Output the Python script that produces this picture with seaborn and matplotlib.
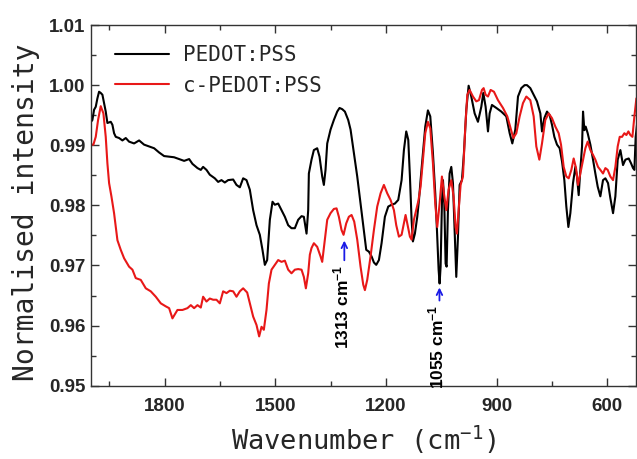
import numpy as np
import pandas as pd
import matplotlib
matplotlib.use("Agg")
import matplotlib.pyplot as plt
import seaborn as sns
from matplotlib.ticker import MultipleLocator, FormatStrFormatter

# ---------------- data ----------------
wn_pedot = [2000.0, 1996.3, 1991.8, 1987.2, 1982.7, 1978.2, 1973.7, 1969.1, 1964.6, 1960.1,
            1955.6, 1946.5, 1942.0, 1937.5, 1932.9, 1923.9, 1914.9, 1905.8, 1896.8, 1883.2,
            1869.6, 1856.1, 1842.5, 1828.9, 1815.4, 1801.8, 1788.2, 1774.7, 1761.1, 1747.5,
            1733.9, 1724.9, 1711.3, 1702.3, 1696.0, 1686.9, 1677.9, 1664.3, 1655.2, 1646.2,
            1637.2, 1628.1, 1614.5, 1605.5, 1596.4, 1587.4, 1578.3, 1569.3, 1560.3, 1551.2,
            1542.2, 1535.0, 1528.6, 1522.3, 1515.0, 1507.8, 1501.5, 1492.4, 1483.4, 1474.3,
            1465.3, 1456.3, 1447.2, 1438.2, 1429.1, 1422.8, 1415.5, 1411.0, 1409.2, 1402.0,
            1395.6, 1386.6, 1380.3, 1373.0, 1368.5, 1364.0, 1359.4, 1350.4, 1341.4, 1332.3,
            1326.0, 1318.7, 1311.5, 1302.5, 1296.1, 1287.1, 1278.0, 1269.0, 1260.0, 1253.6,
            1246.4, 1239.1, 1232.8, 1226.5, 1219.2, 1212.0, 1203.0, 1193.9, 1184.9, 1175.8,
            1166.8, 1157.7, 1151.4, 1145.1, 1139.6, 1135.1, 1130.6, 1127.0, 1121.6, 1115.2,
            1110.7, 1106.2, 1099.8, 1093.5, 1086.3, 1079.9, 1072.7, 1066.4, 1061.8, 1057.3,
            1054.6, 1051.9, 1048.3, 1045.5, 1041.9, 1038.3, 1035.6, 1032.0, 1027.5, 1022.9,
            1018.4, 1013.9, 1009.4, 1004.8, 1000.3, 994.0, 988.6, 982.2, 975.9, 968.7,
            959.6, 950.6, 941.5, 936.1, 929.8, 923.4, 918.9, 912.6, 900.7, 887.3,
            873.7, 864.6, 857.4, 849.3, 842.0, 833.0, 824.0, 817.6, 808.6, 799.5,
            790.5, 781.4, 776.9, 770.6, 763.3, 756.1, 749.8, 743.4, 736.2, 729.0,
            722.6, 716.3, 710.9, 705.4, 700.0, 692.8, 686.4, 682.0, 677.4, 672.9,
            668.3, 665.6, 662.0, 658.4, 653.0, 645.7, 638.5, 632.2, 625.8, 618.6,
            611.4, 605.0, 597.8, 591.5, 584.2, 577.9, 571.6, 564.3, 557.1, 550.7,
            541.7, 535.4, 530.0, 526.3, 522.8, 519.2]
int_pedot = [0.9939, 0.9942, 0.9959, 0.9964, 0.9978, 0.9989, 0.9987, 0.9984, 0.9970, 0.9956,
             0.9937, 0.9939, 0.9934, 0.9920, 0.9914, 0.9912, 0.9908, 0.9912, 0.9906, 0.9903,
             0.9908, 0.9901, 0.9898, 0.9895, 0.9888, 0.9882, 0.9881, 0.9880, 0.9877, 0.9874,
             0.9877, 0.9869, 0.9862, 0.9859, 0.9864, 0.9859, 0.9851, 0.9845, 0.9839, 0.9842,
             0.9838, 0.9842, 0.9843, 0.9834, 0.9830, 0.9845, 0.9842, 0.9826, 0.9792, 0.9767,
             0.9751, 0.9726, 0.9701, 0.9709, 0.9776, 0.9806, 0.9801, 0.9803, 0.9792, 0.9781,
             0.9767, 0.9762, 0.9762, 0.9776, 0.9782, 0.9781, 0.9753, 0.9792, 0.9853, 0.9876,
             0.9892, 0.9895, 0.9881, 0.9848, 0.9834, 0.9859, 0.9903, 0.9926, 0.9942, 0.9956,
             0.9962, 0.9960, 0.9956, 0.9942, 0.9926, 0.9887, 0.9848, 0.9803, 0.9759, 0.9726,
             0.9723, 0.9715, 0.9705, 0.9701, 0.9709, 0.9737, 0.9781, 0.9798, 0.9801, 0.9803,
             0.9809, 0.9842, 0.9892, 0.9923, 0.9909, 0.9848, 0.9776, 0.9740, 0.9753, 0.9781,
             0.9808, 0.9842, 0.9887, 0.9931, 0.9958, 0.9948, 0.9887, 0.9820, 0.9759, 0.9693,
             0.9670, 0.9698, 0.9803, 0.9842, 0.9803, 0.9703, 0.9698, 0.9792, 0.9853, 0.9864,
             0.9837, 0.9759, 0.9681, 0.9748, 0.9834, 0.9842, 0.9887, 0.9959, 0.9999, 0.9981,
             0.9953, 0.9939, 0.9964, 0.9987, 0.9964, 0.9923, 0.9953, 0.9967, 0.9962, 0.9956,
             0.9948, 0.9920, 0.9903, 0.9926, 0.9981, 0.9995, 1.0000, 1.0000, 0.9995, 0.9984,
             0.9973, 0.9953, 0.9923, 0.9945, 0.9956, 0.9950, 0.9934, 0.9914, 0.9901, 0.9895,
             0.9873, 0.9842, 0.9798, 0.9764, 0.9787, 0.9837, 0.9864, 0.9848, 0.9817, 0.9859,
             0.9898, 0.9956, 0.9925, 0.9931, 0.9920, 0.9901, 0.9876, 0.9853, 0.9831, 0.9815,
             0.9842, 0.9845, 0.9837, 0.9812, 0.9787, 0.9815, 0.9876, 0.9892, 0.9867, 0.9876,
             0.9878, 0.9870, 0.9862, 0.9859, 0.9914, 0.9934]

wn_cpedot = [2000.0, 1993.6, 1987.2, 1980.9, 1973.7, 1966.4, 1960.1, 1955.6, 1951.0, 1944.7,
             1937.5, 1928.4, 1919.4, 1910.3, 1896.8, 1887.7, 1878.7, 1865.1, 1851.5, 1838.0,
             1824.4, 1810.8, 1797.3, 1788.2, 1779.2, 1765.6, 1752.0, 1738.5, 1729.4, 1720.4,
             1711.3, 1702.3, 1696.0, 1686.9, 1677.9, 1668.8, 1659.8, 1650.7, 1641.7, 1632.6,
             1623.6, 1614.5, 1605.5, 1596.4, 1587.4, 1576.5, 1569.3, 1560.3, 1551.2, 1544.0,
             1537.6, 1531.3, 1524.1, 1517.7, 1510.5, 1501.5, 1492.4, 1483.4, 1474.3, 1465.3,
             1456.3, 1447.2, 1438.2, 1429.1, 1422.8, 1417.3, 1411.0, 1406.5, 1402.0, 1395.6,
             1386.6, 1377.5, 1373.0, 1365.8, 1359.4, 1350.4, 1341.4, 1334.1, 1327.8, 1320.6,
             1315.1, 1307.9, 1300.7, 1293.4, 1286.2, 1278.0, 1269.0, 1261.7, 1257.2, 1250.9,
             1241.9, 1232.8, 1223.8, 1214.7, 1205.7, 1196.6, 1187.6, 1178.5, 1172.2, 1165.0,
             1157.7, 1151.4, 1146.9, 1142.4, 1135.1, 1130.6, 1124.3, 1112.0, 1106.2, 1099.8,
             1093.5, 1086.3, 1079.9, 1072.7, 1066.4, 1061.0, 1054.6, 1048.3, 1042.8, 1036.5,
             1030.2, 1022.9, 1016.6, 1011.2, 1007.6, 1003.0, 997.6, 991.3, 984.9, 979.5,
             973.2, 964.1, 955.1, 947.9, 939.7, 935.2, 929.8, 923.4, 916.2, 907.2,
             896.3, 882.7, 871.0, 862.0, 854.7, 846.5, 837.5, 828.5, 819.4, 808.6,
             799.5, 792.3, 784.1, 776.9, 767.9, 758.8, 749.8, 740.7, 731.7, 725.3,
             718.1, 710.9, 704.5, 697.3, 691.0, 684.6, 679.2, 672.9, 665.6, 659.3,
             653.0, 645.7, 638.5, 632.2, 625.0, 618.6, 611.4, 605.0, 598.7, 591.5,
             584.2, 577.9, 571.6, 566.1, 559.8, 553.5, 548.0, 542.6, 537.2, 531.7,
             526.3, 520.9]
int_cpedot = [0.9901, 0.9901, 0.9914, 0.9942, 0.9965, 0.9953, 0.9914, 0.9870, 0.9837, 0.9815,
              0.9787, 0.9742, 0.9726, 0.9712, 0.9698, 0.9693, 0.9679, 0.9676, 0.9662, 0.9657,
              0.9648, 0.9637, 0.9632, 0.9629, 0.9612, 0.9626, 0.9626, 0.9629, 0.9634, 0.9629,
              0.9634, 0.9630, 0.9648, 0.9640, 0.9645, 0.9643, 0.9643, 0.9637, 0.9657, 0.9654,
              0.9658, 0.9657, 0.9648, 0.9657, 0.9662, 0.9655, 0.9637, 0.9615, 0.9601, 0.9582,
              0.9598, 0.9593, 0.9626, 0.9670, 0.9693, 0.9701, 0.9709, 0.9706, 0.9708, 0.9693,
              0.9687, 0.9693, 0.9694, 0.9693, 0.9681, 0.9662, 0.9687, 0.9718, 0.9729, 0.9737,
              0.9731, 0.9715, 0.9706, 0.9743, 0.9776, 0.9787, 0.9794, 0.9795, 0.9781, 0.9759,
              0.9751, 0.9770, 0.9781, 0.9784, 0.9773, 0.9743, 0.9698, 0.9668, 0.9659, 0.9676,
              0.9715, 0.9759, 0.9798, 0.9820, 0.9834, 0.9820, 0.9809, 0.9792, 0.9767, 0.9748,
              0.9751, 0.9770, 0.9784, 0.9770, 0.9748, 0.9743, 0.9776, 0.9808, 0.9831, 0.9876,
              0.9920, 0.9939, 0.9928, 0.9870, 0.9803, 0.9764, 0.9803, 0.9848, 0.9820, 0.9792,
              0.9826, 0.9842, 0.9814, 0.9764, 0.9753, 0.9792, 0.9834, 0.9848, 0.9931, 0.9984,
              0.9992, 0.9981, 0.9973, 0.9975, 0.9992, 0.9995, 0.9984, 0.9981, 0.9992, 0.9989,
              0.9975, 0.9962, 0.9948, 0.9928, 0.9912, 0.9920, 0.9948, 0.9970, 0.9981, 0.9975,
              0.9948, 0.9898, 0.9876, 0.9903, 0.9942, 0.9953, 0.9945, 0.9931, 0.9920, 0.9901,
              0.9864, 0.9848, 0.9845, 0.9859, 0.9878, 0.9862, 0.9834, 0.9853, 0.9876, 0.9895,
              0.9906, 0.9892, 0.9884, 0.9876, 0.9864, 0.9859, 0.9853, 0.9862, 0.9859, 0.9848,
              0.9842, 0.9864, 0.9898, 0.9914, 0.9914, 0.9920, 0.9917, 0.9923, 0.9917, 0.9914,
              0.9948, 0.9978]

series_labels = ["PEDOT:PSS", "c-PEDOT:PSS"]
series_colors = ["#000000", "#e81818"]
x_ticks = [1800, 1500, 1200, 900, 600]
y_ticks = [0.95, 0.96, 0.97, 0.98, 0.99, 1.00, 1.01]
peak_positions = [1313, 1055]
peak_labels = ["1313 cm$\\mathregular{^{-1}}$", "1055 cm$\\mathregular{^{-1}}$"]
peak_arrow_tip = [0.9746, 0.9668]
peak_arrow_tail = [0.9704, 0.9637]

# ---------------- plotting ----------------
sns.set_style("ticks")
plt.rcParams["font.family"] = ["Liberation Sans", "DejaVu Sans"]
plt.rcParams["mathtext.default"] = "regular"

df = pd.concat([
    pd.DataFrame({"wn": wn_pedot, "val": int_pedot, "sample": series_labels[0]}),
    pd.DataFrame({"wn": wn_cpedot, "val": int_cpedot, "sample": series_labels[1]}),
])

fig = plt.figure(figsize=(6.37, 4.59), dpi=100)
ax = fig.add_axes([0.1429, 0.1597, 0.8555, 0.7858])

sns.lineplot(data=df, x="wn", y="val", hue="sample", palette=series_colors,
             hue_order=series_labels, sort=False, estimator=None, lw=1.5, ax=ax)

ax.set_xlim(2000, 522)
ax.set_ylim(0.95, 1.01)
ax.set_xticks(x_ticks)
ax.set_yticks(y_ticks)
ax.xaxis.set_minor_locator(MultipleLocator(150))
ax.yaxis.set_minor_locator(MultipleLocator(0.005))
ax.yaxis.set_major_formatter(FormatStrFormatter("%.2f"))

ax.tick_params(which="both", direction="in", top=True, right=True, color="#333333")
ax.tick_params(which="major", length=6, width=1.0)
ax.tick_params(which="minor", length=3.5, width=1.0)
ax.tick_params(axis="x", which="major", pad=9)
ax.tick_params(axis="y", which="major", pad=4)
for lab in ax.get_xticklabels() + ax.get_yticklabels():
    lab.set_fontsize(13.5)
    lab.set_fontweight("bold")
for sp in ax.spines.values():
    sp.set_linewidth(1.0)
    sp.set_color("#333333")

ax.set_xlabel("Wavenumber (cm$\\mathregular{^{-1}}$)", fontsize=19.5,
              family="DejaVu Sans Mono", labelpad=6)
ax.set_ylabel("Normalised intensity", fontsize=20.2, family="DejaVu Sans Mono")
ax.yaxis.set_label_coords(-0.093, 0.482)

leg = ax.legend(loc="upper left", bbox_to_anchor=(0.044, 0.944), frameon=False,
                borderpad=0, borderaxespad=0,
                prop={"family": "DejaVu Sans Mono", "size": 15},
                handlelength=2.6, handletextpad=0.64, labelspacing=0.5)
for h in leg.get_lines():
    h.set_linewidth(1.5)

for pos, lab, tip, tail in zip(peak_positions, peak_labels, peak_arrow_tip, peak_arrow_tail):
    ax.annotate("", xy=(pos, tip), xytext=(pos, tail),
                arrowprops=dict(arrowstyle="->", color="#1a1ae6", lw=1.3))
    ax.text(pos + 8, tail - 0.0003, lab, rotation=90, ha="center", va="top",
            fontsize=12.5, fontweight="bold", color="black")

fig.savefig("out.png", dpi=100)
